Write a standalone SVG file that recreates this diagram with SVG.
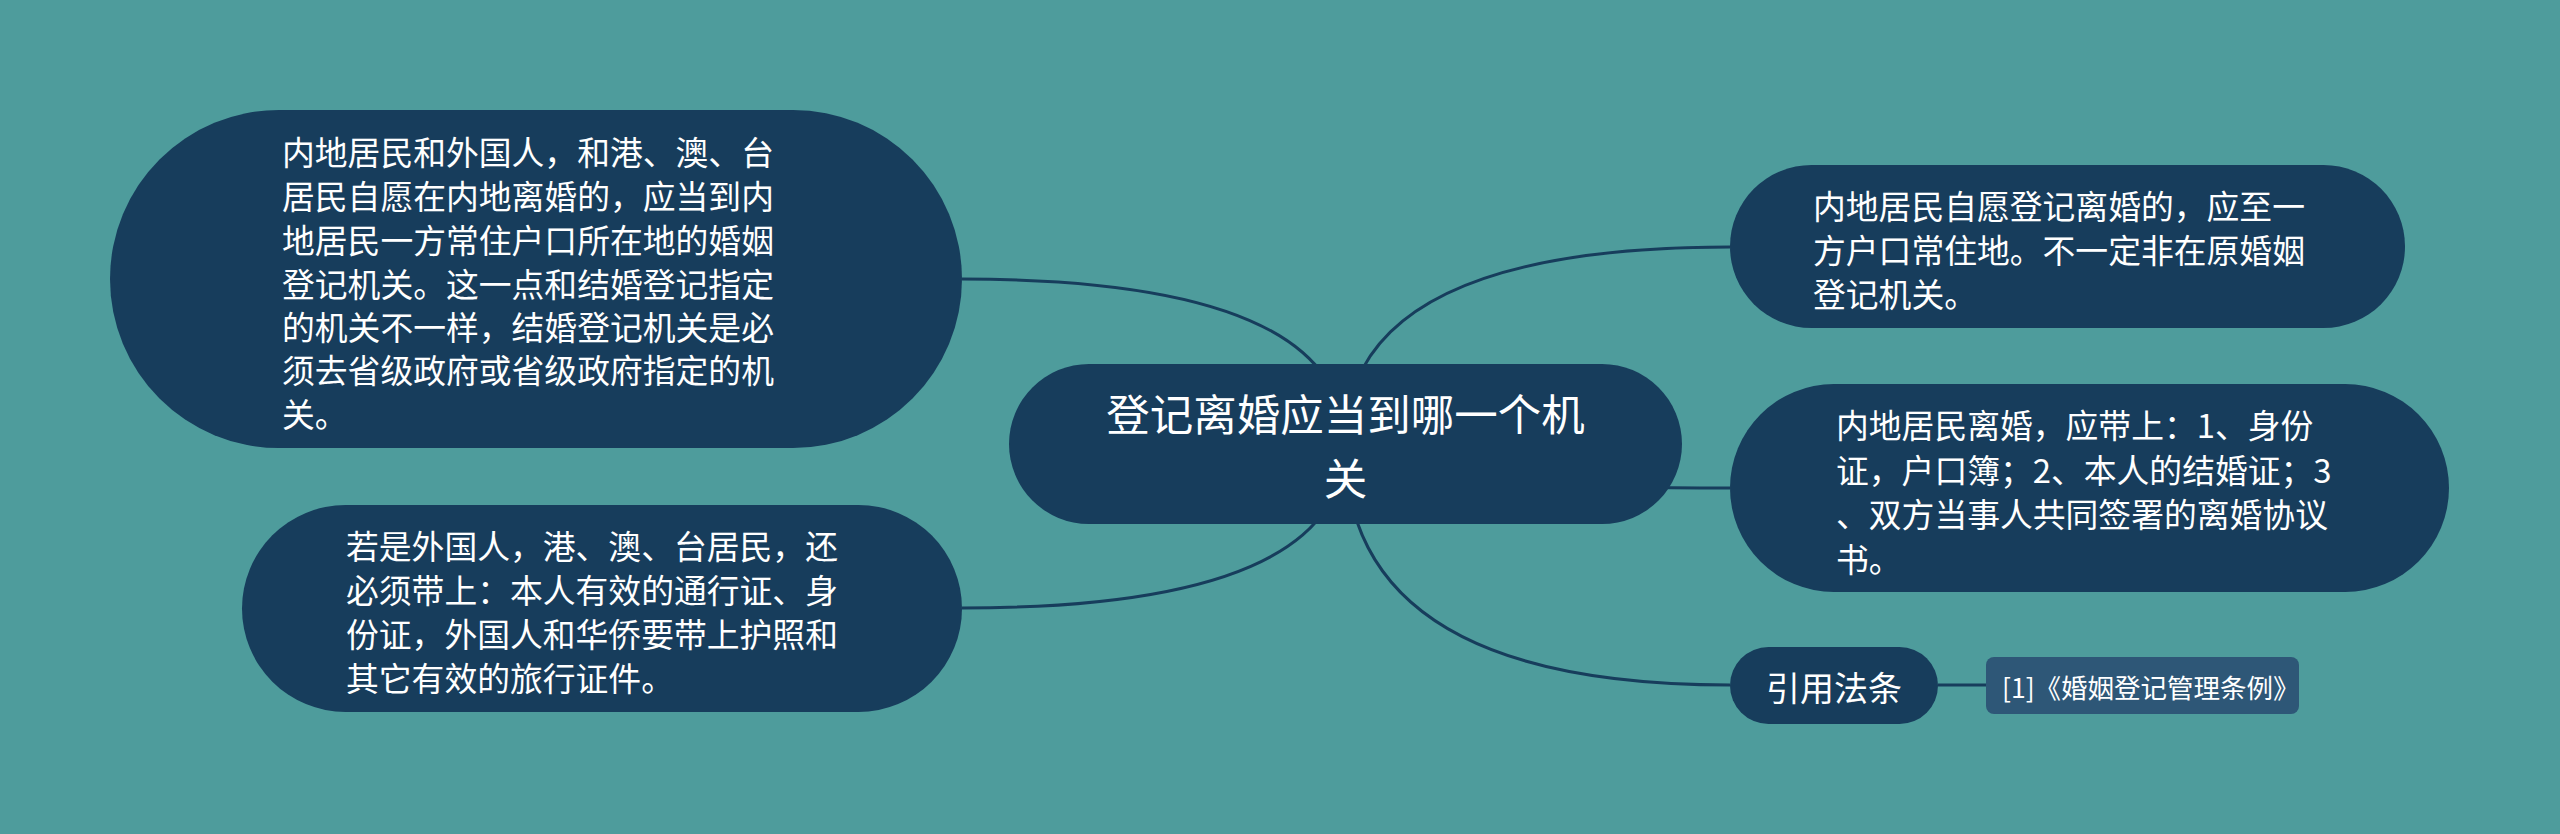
<svg xmlns="http://www.w3.org/2000/svg" width="2560" height="834" viewBox="0 0 2560 834">
<style>
.bg{fill:#4e9c9c}
.node{fill:#173d5c}
.cite{fill:#2e5777}
.link{fill:none;stroke:#173d5c;stroke-width:3}
text{font-family:"Noto Sans CJK SC","Noto Sans",sans-serif;fill:#ffffff;dominant-baseline:central}
.t{font-size:32.8px}
.title{font-size:43.5px;text-anchor:middle}
.sub{font-size:34px;text-anchor:middle}
.ct{font-size:26.5px}
</style>
<rect class="bg" x="0" y="0" width="2560" height="834"/>
<g id="connectors">
<path class="link" d="M1345 444 Q1345 279 962 279"/>
<path class="link" d="M1345 444 Q1345 608 962 608"/>
<path class="link" d="M1345 444 Q1345 247 1730 247"/>
<path class="link" d="M1345 444 Q1345 488 1730 488"/>
<path class="link" d="M1345 444 Q1345 685 1730 685"/>
<path class="link" d="M1938 685 L1986 685"/>
</g>
<g id="root">
<rect class="node" x="1009" y="364" width="673" height="160" rx="80" ry="80"/>
<text class="title"><tspan x="1345.5" y="412">登记离婚应当到哪一个机</tspan><tspan x="1345.5" y="476">关</tspan></text>
</g>
<g id="node-left-top">
<rect class="node" x="110" y="110" width="852" height="338" rx="169" ry="169"/>
<text class="t"><tspan x="282" y="150">内地居民和外国人，和港、澳、台</tspan><tspan x="282" y="194">居民自愿在内地离婚的，应当到内</tspan><tspan x="282" y="238">地居民一方常住户口所在地的婚姻</tspan><tspan x="282" y="282">登记机关。这一点和结婚登记指定</tspan><tspan x="282" y="325">的机关不一样，结婚登记机关是必</tspan><tspan x="282" y="368">须去省级政府或省级政府指定的机</tspan><tspan x="282" y="412">关。</tspan></text>
</g>
<g id="node-left-bottom">
<rect class="node" x="242" y="505" width="720" height="207" rx="103.5" ry="103.5"/>
<text class="t"><tspan x="346" y="544">若是外国人，港、澳、台居民，还</tspan><tspan x="346" y="588">必须带上：本人有效的通行证、身</tspan><tspan x="346" y="632">份证，外国人和华侨要带上护照和</tspan><tspan x="346" y="676">其它有效的旅行证件。</tspan></text>
</g>
<g id="node-right-top">
<rect class="node" x="1730" y="165" width="675" height="163" rx="81.5" ry="81.5"/>
<text class="t"><tspan x="1813" y="204">内地居民自愿登记离婚的，应至一</tspan><tspan x="1813" y="248">方户口常住地。不一定非在原婚姻</tspan><tspan x="1813" y="292">登记机关。</tspan></text>
</g>
<g id="node-right-middle">
<rect class="node" x="1730" y="384" width="719" height="208" rx="104" ry="104"/>
<text class="t"><tspan x="1836" y="423">内地居民离婚，应带上：1、身份</tspan><tspan x="1836" y="468">证，户口簿；2、本人的结婚证；3</tspan><tspan x="1836" y="512">、双方当事人共同签署的离婚协议</tspan><tspan x="1836" y="557">书。</tspan></text>
</g>
<g id="node-law">
<rect class="node" x="1730" y="647" width="208" height="77" rx="38.5" ry="38.5"/>
<text class="sub" x="1834" y="686">引用法条</text>
</g>
<g id="node-citation">
<rect class="cite" x="1986" y="657" width="313" height="57" rx="8" ry="8"/>
<text class="ct" x="2002" y="686">[1]《婚姻登记管理条例》</text>
</g>
</svg>
